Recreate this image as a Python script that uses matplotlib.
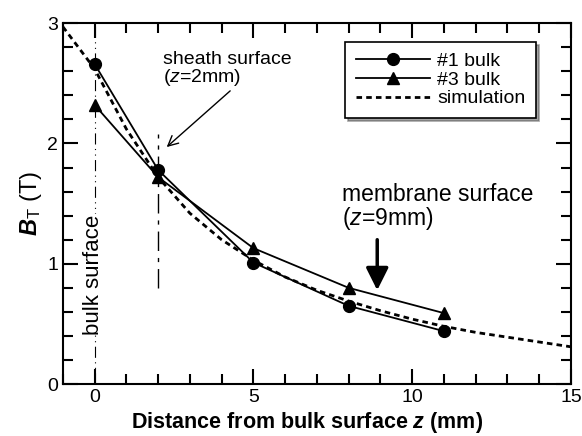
import matplotlib
matplotlib.use("Agg")
import matplotlib.pyplot as plt
from matplotlib.ticker import MultipleLocator
from matplotlib.collections import LineCollection

plt.rcParams['font.family'] = ['Liberation Sans', 'DejaVu Sans']
plt.rcParams['mathtext.fontset'] = 'custom'
plt.rcParams['mathtext.rm'] = 'Liberation Sans'
plt.rcParams['mathtext.it'] = 'Liberation Sans:italic'
plt.rcParams['mathtext.bf'] = 'Liberation Sans:bold'
plt.rcParams['mathtext.bfit'] = 'Liberation Sans:bold:italic'

z1 = [0, 2, 5, 8, 11]
b1 = [2.66, 1.78, 1.01, 0.65, 0.44]
z3 = [0, 2, 5, 8, 11]
b3 = [2.32, 1.72, 1.13, 0.80, 0.59]
zs = [-1, 0, 1, 2, 3, 4, 5, 6, 7, 8, 9, 10, 11, 12, 13, 14, 15]
bs = [2.97, 2.62, 2.12, 1.72, 1.42, 1.20, 1.03, 0.89, 0.78, 0.69, 0.61, 0.54, 0.48, 0.43, 0.39, 0.35, 0.31]

fig = plt.figure(figsize=(5.82, 4.36), dpi=100)
ax = fig.add_axes([0.108, 0.119, 0.873, 0.828])

ax.plot(zs, bs, ls=(0, (2, 1.5)), color='black', lw=2.0, label='simulation', zorder=3)
ax.plot(z1, b1, '-o', color='black', lw=1.3, ms=8.5, label='#1 bulk', zorder=4)
ax.plot(z3, b3, '-^', color='black', lw=1.3, ms=8, label='#3 bulk', zorder=4)

# reference lines
ax.plot([0, 0], [0, 3], color='black', lw=0.8, ls=(0, (10, 4, 1, 4, 1, 4)), zorder=1)
ax.plot([2, 2], [0.8, 2.08], color='black', lw=1.0, ls=(0, (14, 5, 3, 5)), zorder=1)
ax.text(-0.05, 0.91, 'bulk surface', rotation=90, ha='center', va='center', fontsize=16,
        bbox=dict(facecolor='white', edgecolor='none', pad=0.5), zorder=2)

ax.annotate('sheath surface\n($\\it{z}$=2mm)', xy=(2.27, 1.97), xytext=(2.14, 2.46),
            fontsize=14, ha='left', va='bottom', linespacing=0.95,
            arrowprops=dict(arrowstyle='->', color='black', lw=1.0, mutation_scale=18,
                            shrinkA=0, shrinkB=0, relpos=(0.55, 0)))
ax.annotate('', xy=(8.9, 0.78), xytext=(8.9, 1.2),
            arrowprops=dict(arrowstyle='-|>', color='black', lw=2.5, mutation_scale=34,
                            shrinkA=0, shrinkB=0))
ax.text(7.78, 1.47, 'membrane surface\n($\\it{z}$=9mm)', fontsize=16.5, ha='left', va='center',
        linespacing=0.95)

ax.set_xlim(-1, 15)
ax.set_ylim(0, 3)
ax.xaxis.set_major_locator(MultipleLocator(5))
ax.xaxis.set_minor_locator(MultipleLocator(1))
ax.yaxis.set_major_locator(MultipleLocator(1))
ax.yaxis.set_minor_locator(MultipleLocator(0.2))
ax.tick_params(axis='both', which='both', direction='in', top=True, right=True,
               bottom=True, left=True, labelsize=14, length=0)
for s in ax.spines.values():
    s.set_linewidth(1.5)

# draw tick marks explicitly (inward, all four sides) at the locator positions
xmin, xmax = ax.get_xlim()
ymin, ymax = ax.get_ylim()
bb = ax.get_position()
fig_w, fig_h = fig.get_size_inches()
ax_w_pt = bb.width * fig_w * 72
ax_h_pt = bb.height * fig_h * 72
tick_specs = [(ax.xaxis.get_majorticklocs(), 11), (ax.xaxis.get_minorticklocs(), 7)]
for locs, L in tick_specs:
    f = L / ax_h_pt
    segs = []
    for v in locs:
        if xmin - 1e-9 <= v <= xmax + 1e-9:
            segs.append([(v, 0), (v, f)])
            segs.append([(v, 1), (v, 1 - f)])
    ax.add_collection(LineCollection(segs, colors='black', linewidths=1.5,
                                     transform=ax.get_xaxis_transform(), clip_on=False, zorder=5))
tick_specs = [(ax.yaxis.get_majorticklocs(), 11), (ax.yaxis.get_minorticklocs(), 7)]
for locs, L in tick_specs:
    f = L / ax_w_pt
    segs = []
    for v in locs:
        if ymin - 1e-9 <= v <= ymax + 1e-9:
            segs.append([(0, v), (f, v)])
            segs.append([(1, v), (1 - f, v)])
    ax.add_collection(LineCollection(segs, colors='black', linewidths=1.5,
                                     transform=ax.get_yaxis_transform(), clip_on=False, zorder=5))
ax.set_xlim(xmin, xmax)
ax.set_ylim(ymin, ymax)

ax.set_xlabel('Distance from bulk surface $\\boldsymbol{z}$ (mm)', fontsize=15.5, fontweight='bold')
ax.xaxis.set_label_coords(0.48, -0.072, transform=ax.transAxes)
ax.xaxis.label.set_va('top')
ax.set_ylabel('$\\boldsymbol{B}_{\\mathrm{T}}$ (T)', fontsize=17, labelpad=2)

handles, labels = ax.get_legend_handles_labels()
order = [1, 2, 0]
leg = ax.legend([handles[i] for i in order], [labels[i] for i in order],
                loc='upper right', bbox_to_anchor=(0.951, 0.975), fontsize=14,
                frameon=True, fancybox=False, shadow=True, handlelength=3.8,
                borderpad=0.55, labelspacing=0.05, handletextpad=0.4)
leg.get_frame().set_edgecolor('black')
leg.get_frame().set_linewidth(1.2)
leg.set_zorder(10)

fig.savefig('out.png', dpi=100)
